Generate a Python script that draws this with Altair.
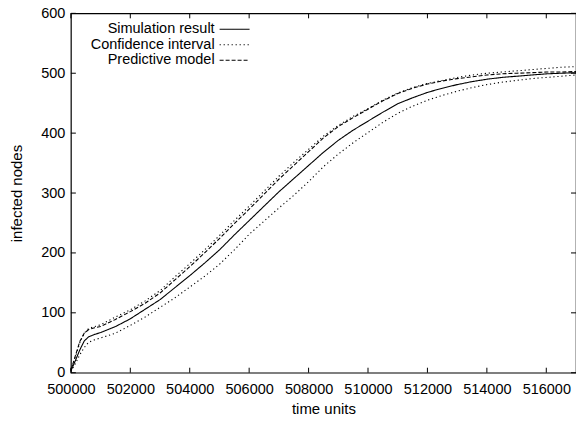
import altair as alt
import pandas as pd

# ---- data ----
time = [500000, 500150, 500300, 500450, 500600, 500800, 501000, 501500, 502000, 502500,
        503000, 503500, 504000, 504500, 505000, 505500, 506000, 506500, 507000, 507500,
        508000, 508500, 509000, 509500, 510000, 510500, 511000, 511500, 512000, 512500,
        513000, 513500, 514000, 514500, 515000, 515500, 516000, 516500, 517000]

simulation = [3, 20, 38, 53, 60, 64, 67, 77, 90, 106,
              122, 142, 162, 183, 205, 230, 254, 278, 302, 324,
              346, 368, 388, 405, 420, 435, 449, 459, 468, 475,
              481, 486, 490, 493, 495, 497, 499, 500, 501]

ci_upper = [5, 26, 50, 66, 74, 77, 80, 93, 105, 120,
            137, 160, 182, 205, 229, 254, 278, 303, 328, 351,
            373, 395, 413, 428, 441, 455, 467, 476, 483, 488,
            493, 497, 500, 502, 504, 506, 508, 510, 511]

ci_lower = [2, 15, 30, 42, 51, 55, 58, 66, 79, 93,
            109, 125, 143, 161, 181, 205, 231, 253, 275, 296,
            319, 344, 365, 384, 401, 418, 433, 445, 455, 463,
            470, 476, 481, 485, 488, 491, 493, 495, 497]

predictive = [4, 28, 52, 66, 72, 75, 77, 89, 102, 116,
              133, 155, 177, 200, 224, 249, 273, 298, 323, 346,
              369, 392, 411, 426, 440, 454, 466, 475, 482, 487,
              491, 494, 497, 499, 500, 501, 502, 502, 503]

series_names = ["Simulation result", "Confidence interval", "Predictive model"]
x_ticks = [500000, 502000, 504000, 506000, 508000, 510000, 512000, 514000, 516000]
y_ticks = [0, 100, 200, 300, 400, 500, 600]

# ---- long table ----
rows = []
for t, s, u, l, p in zip(time, simulation, ci_upper, ci_lower, predictive):
    rows.append({"t": t, "v": s, "series": series_names[0], "grp": "sim"})
    rows.append({"t": t, "v": u, "series": series_names[1], "grp": "upper"})
    rows.append({"t": t, "v": l, "series": series_names[1], "grp": "lower"})
    rows.append({"t": t, "v": p, "series": series_names[2], "grp": "pred"})
df = pd.DataFrame(rows)
legend_df = pd.DataFrame({"series": series_names, "row": list(range(len(series_names)))})

FONT = "Liberation Sans"
W, H = 506, 360
TL = 5

xscale = alt.Scale(domain=[500000, 517000], nice=False, zero=False)
yscale = alt.Scale(domain=[0, 600], nice=False)
dash_scale = alt.Scale(domain=series_names, range=[[1, 0], [1.2, 2.8], [4, 2]])
row_scale = alt.Scale(domain=[0, 2], range=[16, 47])

lines = alt.Chart(df).mark_line(strokeWidth=1.1, color="black").encode(
    x=alt.X("t:Q", scale=xscale,
            axis=alt.Axis(values=x_ticks, format="d", title="time units", ticks=False,
                          domain=False, grid=False, labelPadding=10, labelFlush=False,
                          titlePadding=5)),
    y=alt.Y("v:Q", scale=yscale,
            axis=alt.Axis(values=y_ticks, format="d", title="infected nodes", ticks=False,
                          domain=False, grid=False, labelPadding=6, titlePadding=16)),
    strokeDash=alt.StrokeDash("series:N", scale=dash_scale, legend=None),
    detail="grp:N",
)

# gnuplot-style key: label right-aligned, sample line to its right
key_text = alt.Chart(legend_df).mark_text(
    align="right", baseline="middle", font=FONT, fontSize=14.5, color="black"
).encode(
    x=alt.value(144),
    y=alt.Y("row:Q", scale=row_scale, axis=None),
    text="series:N",
)
key_line = alt.Chart(legend_df).mark_rule(strokeWidth=1.1, color="black").encode(
    x=alt.value(149), x2=alt.value(179),
    y=alt.Y("row:Q", scale=row_scale, axis=None),
    strokeDash=alt.StrokeDash("series:N", scale=dash_scale, legend=None),
)

xt = pd.DataFrame({"tx": x_ticks})
yt = pd.DataFrame({"ty": y_ticks})

xtick_bottom = alt.Chart(xt).mark_rule(color="black", strokeWidth=1).encode(
    x=alt.X("tx:Q", scale=xscale), y=alt.value(H), y2=alt.value(H - TL))
xtick_top = alt.Chart(xt).mark_rule(color="black", strokeWidth=1).encode(
    x=alt.X("tx:Q", scale=xscale), y=alt.value(0), y2=alt.value(TL))
ytick_left = alt.Chart(yt).mark_rule(color="black", strokeWidth=1).encode(
    y=alt.Y("ty:Q", scale=yscale, axis=None), x=alt.value(0), x2=alt.value(TL))
ytick_right = alt.Chart(yt).mark_rule(color="black", strokeWidth=1).encode(
    y=alt.Y("ty:Q", scale=yscale, axis=None), x=alt.value(W), x2=alt.value(W - TL))

chart = alt.layer(
    lines, key_text, key_line, xtick_bottom, xtick_top, ytick_left, ytick_right
).resolve_scale(y="independent").properties(
    width=W, height=H,
    autosize=alt.AutoSizeParams(type="none"),
    padding={"left": 71, "top": 13, "right": 0, "bottom": 50},
    background="white",
).configure_view(
    stroke="black", strokeWidth=1.2
).configure_axis(
    labelFont=FONT, titleFont=FONT, labelColor="black", titleColor="black",
    labelFontSize=14.5, titleFontSize=15, titleFontWeight="normal",
)

chart.save("out.html", embed_options={"renderer": "svg", "actions": False})
